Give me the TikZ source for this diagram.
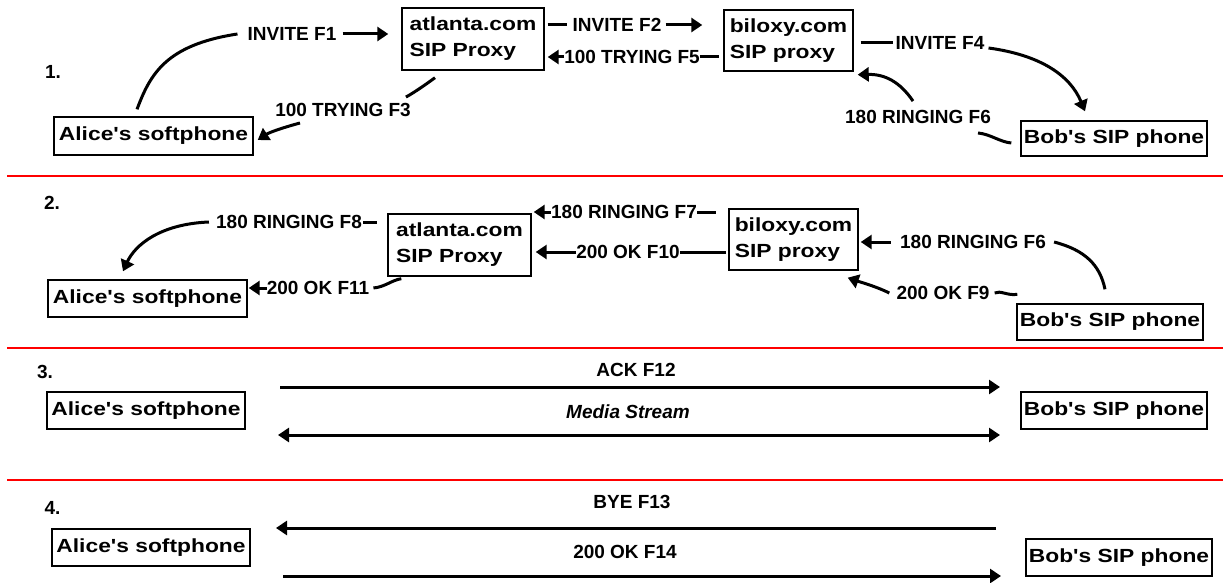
\documentclass[tikz,border=0pt]{standalone}
\usepackage{fontspec}
\setmainfont{Liberation Sans}
\newfontfamily\boxfont{Liberation Sans}[FakeStretch=1.2]
\usetikzlibrary{arrows.meta}

\begin{document}
\begin{tikzpicture}[x=1pt,y=-1pt,
  >={Triangle[length=11pt,width=14pt]},
  pbox/.style={draw, line width=1.4pt, inner sep=0pt, align=left,
    font=\boxfont\bfseries\fontsize{19}{26}\selectfont},
  msg/.style={inner sep=0pt, font=\bfseries\fontsize{19}{22}\selectfont},
  wire/.style={line width=3pt},
  arr/.style={wire, ->},
  divider/.style={draw=red, line width=1.4pt}]
\useasboundingbox[fill=white] (0,0) rectangle (1223,583);

% section dividers
\draw[divider] (7,176) -- (1223,176);
\draw[divider] (7,348) -- (1223,348);
\draw[divider] (7,480) -- (1223,480);

% ---------- 1. INVITE / TRYING / RINGING ----------
\node[msg] (n1) at (53,72) {1.};
\node[pbox, minimum width=199pt, minimum height=38pt] (alice1) at (153.5,136) {Alice's softphone};
\node[pbox, minimum width=142pt, minimum height=62pt] (atl1) at (473,39) {atlanta.com\\SIP Proxy};
\node[pbox, minimum width=129pt, minimum height=61pt] (bil1) at (788.5,40.5) {biloxy.com\\SIP proxy};
\node[pbox, minimum width=186pt, minimum height=35pt] (bob1) at (1114,138.5) {Bob's SIP phone};

\node[msg] (f1) at (292,34) {INVITE F1};
\node[msg] (f2) at (617,25) {INVITE F2};
\node[msg] (f3) at (343,110) {100 TRYING F3};
\node[msg] (f4) at (940,43) {INVITE F4};
\node[msg] (f5) at (632,57) {100 TRYING F5};
\node[msg] (f6) at (918,117) {180 RINGING F6};

\draw[wire] ([shift={(-16.5,-7)}]alice1.north) .. controls (150,75) and (165,45) .. ([xshift=-10pt]f1.west);
\draw[arr, shorten <=6pt, shorten >=13pt] (f1.east) -- (f1.east -| atl1.west);

\draw[wire, shorten <=3pt, shorten >=5pt] (f2.west -| atl1.east) -- (f2.west);
\draw[arr, shorten <=4pt, shorten >=21pt] (f2.east) -- (f2.east -| bil1.west);

\draw[wire] ([shift={(-38,7)}]atl1.south) .. controls (425,85) and (415,92) .. ([shift={(-5,-6)}]f3.north east);
\draw[arr] ([shift={(-43,13)}]f3.center) .. controls (285,127) and (270,132) .. ([shift={(4,4)}]alice1.east);

\draw[wire, shorten <=7pt, shorten >=2pt] (f4.west -| bil1.east) -- (f4.west);
\draw[arr] ([shift={(4,5)}]f4.east) .. controls (1040,55) and (1070,75) .. ([shift={(-29,-9)}]bob1.north);

\draw[arr] (f5.west) -- ([xshift=3pt]f5.west -| atl1.east);
\draw[wire, shorten >=4pt] (f5.east) -- (f5.east -| bil1.west);

\draw[arr] ([shift={(-5,-9)}]f6.north) .. controls (900,82) and (885,74) .. ([shift={(4,3)}]bil1.south east);
\draw[wire] ([shift={(60,16)}]f6.center) .. controls (990,134) and (1000,142) .. ([shift={(-9,4.5)}]bob1.west);

% ---------- 2. RINGING / 200 OK ----------
\node[msg] (n2) at (52,203) {2.};
\node[pbox, minimum width=199pt, minimum height=37pt] (alice2) at (147.5,298.5) {Alice's softphone};
\node[pbox, minimum width=143pt, minimum height=62pt] (atl2) at (459.5,245) {atlanta.com\\SIP Proxy};
\node[pbox, minimum width=129pt, minimum height=61pt] (bil2) at (793.5,239.5) {biloxy.com\\SIP proxy};
\node[pbox, minimum width=186pt, minimum height=36pt] (bob2) at (1110,322) {Bob's SIP phone};

\node[msg] (f8) at (289,222) {180 RINGING F8};
\node[msg] (f7) at (624,212) {180 RINGING F7};
\node[msg] (f10) at (628,252) {200 OK F10};
\node[msg] (f6b) at (973,242) {180 RINGING F6};
\node[msg] (f9) at (943,293) {200 OK F9};
\node[msg] (f11) at (318,288) {200 OK F11};

\draw[arr] ([xshift=-7pt]f8.west) .. controls (160,224) and (135,245) .. ([shift={(-24.5,-8)}]alice2.north);
\draw[wire, shorten <=1pt, shorten >=10pt] (f8.east) -- (f8.east -| atl2.west);

\draw[arr, shorten >=2pt] (f7.west) -- (f7.west -| atl2.east);
\draw[wire, shorten >=12pt] (f7.east) -- (f7.east -| bil2.west);

\draw[arr, shorten >=4pt] (f10.west) -- (f10.west -| atl2.east);
\draw[wire, shorten >=2pt] (f10.east) -- (f10.east -| bil2.west);

\draw[arr, shorten <=9pt, shorten >=2pt] (f6b.west) -- (f6b.west -| bil2.east);
\draw[wire] ([xshift=8pt]f6b.east) .. controls (1085,250) and (1100,265) .. ([shift={(-5,-14)}]bob2.north);

\draw[arr] ([xshift=-7pt]f9.west) .. controls (875,286) and (860,282) .. ([shift={(-11,7)}]bil2.south east);
\draw[wire] ([xshift=5pt]f9.east) .. controls (1000,290) and (1008,296) .. ([shift={(1,-9)}]bob2.north west);

\draw[arr, shorten >=1pt] (f11.west) -- (f11.west -| alice2.east);
\draw[wire] ([xshift=4pt]f11.east) .. controls (385,287) and (392,280) .. ([shift={(14,2)}]atl2.south west);

% ---------- 3. ACK and media ----------
\node[msg] (n3) at (45,372) {3.};
\node[pbox, minimum width=198pt, minimum height=37pt] (alice3) at (146,410.5) {Alice's softphone};
\node[pbox, minimum width=186pt, minimum height=37pt] (bob3) at (1114,410.5) {Bob's SIP phone};
\node[msg] (f12) at (636,370) {ACK F12};
\node[msg, font=\bfseries\itshape\fontsize{19}{22}\selectfont] (media) at (628,412) {Media Stream};

\coordinate (ackA) at (280,387);
\coordinate (ackB) at (1000,387);
\coordinate (rtpA) at (278,435);
\coordinate (rtpB) at (1000,435);
\draw[arr] (ackA) -- (ackB);
\draw[wire, <->] (rtpA) -- (rtpB);

% ---------- 4. BYE ----------
\node[msg] (n4) at (52.5,508) {4.};
\node[pbox, minimum width=198pt, minimum height=37pt] (alice4) at (151,547.5) {Alice's softphone};
\node[pbox, minimum width=186pt, minimum height=37pt] (bob4) at (1119,557.5) {Bob's SIP phone};
\node[msg] (f13) at (632,502) {BYE F13};
\node[msg] (f14) at (625,552) {200 OK F14};

\coordinate (byeA) at (996,528);
\coordinate (byeB) at (276,528);
\coordinate (okA) at (283,576);
\coordinate (okB) at (1001,576);
\draw[arr] (byeA) -- (byeB);
\draw[arr] (okA) -- (okB);
\end{tikzpicture}
\end{document}
